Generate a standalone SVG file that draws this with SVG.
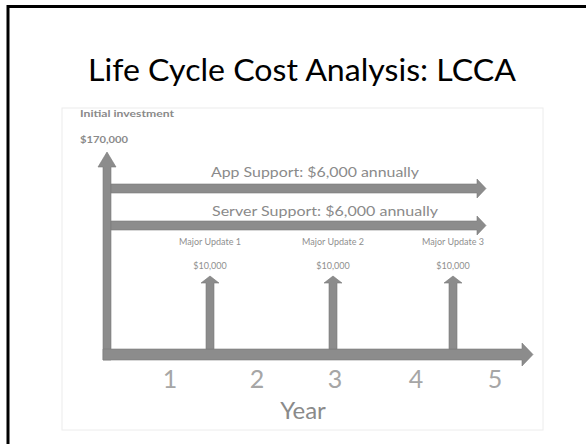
<svg xmlns="http://www.w3.org/2000/svg" width="586" height="444" viewBox="0 0 586 444">
<style>
.arr{fill:#8c8c8c;stroke:#7a7a7a;stroke-width:0.6}
.lab{font-family:Lato,"Open Sans","Liberation Sans",sans-serif;fill:#8a8a8a}
.sm{font-size:9px;text-anchor:middle;fill:#8f8f8f}
.num{font-size:25px;text-anchor:middle;fill:#a6a6a6}
</style>
<rect x="0" y="0" width="586" height="444" fill="#ffffff"/>
<rect x="8" y="6.5" width="620" height="480" fill="none" stroke="#000000" stroke-width="3"/>
<g id="title">
<text x="302" y="81" font-family="Lato,'Open Sans','Liberation Sans',sans-serif" font-size="30" fill="#000000" text-anchor="middle" textLength="428" lengthAdjust="spacingAndGlyphs">Life Cycle Cost Analysis: LCCA</text>
</g>
<g id="chart-frame">
<rect x="62" y="108" width="481" height="322" fill="none" stroke="#ececec" stroke-width="1"/>
</g>
<g id="initial-investment">
<text class="lab" x="80" y="117" font-size="9" font-weight="bold" fill="#9a9a9a" textLength="94" lengthAdjust="spacingAndGlyphs">Initial investment</text>
<text class="lab" x="80" y="143" font-size="9.5" font-weight="bold" fill="#9a9a9a" textLength="48" lengthAdjust="spacingAndGlyphs">$170,000</text>
</g>
<g id="connectors">
<polygon class="arr" points="103,360 103,167 98,167 107,152 116,167 111,167 111,360"/>
<polygon class="arr" points="111,184 477,184 477,179 486,188.5 477,198 477,193 111,193"/>
<polygon class="arr" points="111,221 477,221 477,216 486,225.5 477,235 477,230 111,230"/>
<polygon class="arr" points="103,349 522,349 522,343 533,354.5 522,366 522,360 103,360"/>
<polygon class="arr" points="206,349 206,283 201,283 210,276 219,283 214,283 214,349"/>
<polygon class="arr" points="329,349 329,283 324,283 333,276 342,283 337,283 337,349"/>
<polygon class="arr" points="449,349 449,283 444,283 453,276 462,283 457,283 457,349"/>
</g>
<g id="app-support">
<text class="lab" x="211" y="177" font-size="14" fill="#7f7f7f" textLength="208" lengthAdjust="spacingAndGlyphs">App Support: $6,000 annually</text>
</g>
<g id="server-support">
<text class="lab" x="212" y="216" font-size="14" fill="#7f7f7f" textLength="226" lengthAdjust="spacingAndGlyphs">Server Support: $6,000 annually</text>
</g>
<g id="update-1">
<text class="lab sm" x="210" y="245">Major Update 1</text>
<text class="lab sm" x="210" y="269">$10,000</text>
</g>
<g id="update-2">
<text class="lab sm" x="333" y="245">Major Update 2</text>
<text class="lab sm" x="333" y="269">$10,000</text>
</g>
<g id="update-3">
<text class="lab sm" x="453" y="245">Major Update 3</text>
<text class="lab sm" x="453" y="269">$10,000</text>
</g>
<g id="axis-labels">
<text class="lab num" x="170" y="388">1</text>
<text class="lab num" x="257" y="388">2</text>
<text class="lab num" x="335" y="388">3</text>
<text class="lab num" x="416" y="388">4</text>
<text class="lab num" x="495" y="388">5</text>
<text class="lab" x="303" y="419" font-size="24" fill="#a6a6a6" text-anchor="middle">Year</text>
</g>
</svg>
